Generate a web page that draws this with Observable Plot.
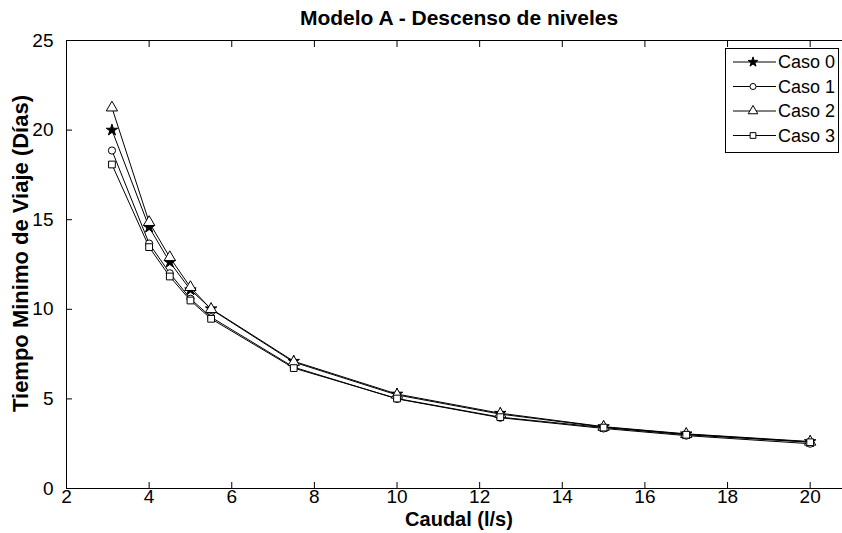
<!DOCTYPE html>
<html>
<head>
<meta charset="utf-8">
<script src="https://cdn.jsdelivr.net/npm/d3@7"></script>
<script src="https://cdn.jsdelivr.net/npm/@observablehq/plot@0.6"></script>
<style>
  html, body { margin: 0; padding: 0; background: #fff; overflow: hidden; }
  #wrap { position: relative; width: 842px; height: 533px; }
  #legend { position: absolute; left: 725px; top: 48px; width: 114px; height: 105px; border: 1px solid #000; background: #fff; box-sizing: border-box; }
</style>
</head>
<body>
<div id="wrap"><div id="chart"></div><div id="legend"></div></div>
<script>
const caudal = [3.1, 4, 4.5, 5, 5.5, 7.5, 10, 12.5, 15, 17, 20];
const caso0 = [20.0, 14.58, 12.63, 11.09, 10.03, 7.1, 5.27, 4.2, 3.45, 3.05, 2.62];
const caso1 = [18.86, 13.67, 12.01, 10.59, 9.56, 6.77, 5.0, 3.95, 3.35, 2.95, 2.5];
const caso2 = [21.25, 14.86, 12.9, 11.23, 10.0, 7.05, 5.22, 4.15, 3.43, 3.03, 2.6];
const caso3 = [18.08, 13.47, 11.83, 10.49, 9.47, 6.72, 5.02, 3.98, 3.4, 3.0, 2.58];
const casos = ["Caso 0", "Caso 1", "Caso 2", "Caso 3"];
const symbols = ["star", "circle", "triangle", "square"];
const fills = ["black", "white", "white", "white"];
const radii = [3.6, 3.6, 4.2, 3.8];
const xTicks = [2, 4, 6, 8, 10, 12, 14, 16, 18, 20];
const yTicks = [0, 5, 10, 15, 20, 25];
const title = "Modelo A - Descenso de niveles";
const xLabel = "Caudal (l/s)";
const yLabel = "Tiempo Minimo de Viaje (Días)";

const series = [caso0, caso1, caso2, caso3];
const data = [];
series.forEach((vals, i) => vals.forEach((v, j) => data.push({caso: casos[i], x: caudal[j], y: v, i})));

const font = "'Liberation Sans', Arial, sans-serif";

const dotMarks = casos.map((c, i) => Plot.dot(data.filter(d => d.caso === c), {
  x: "x", y: "y", symbol: () => symbols[i], r: radii[i],
  fill: fills[i], stroke: "black", strokeWidth: 1
}));

const blank = () => "";
const chart = Plot.plot({
  width: 842, height: 533,
  marginLeft: 66, marginRight: -9, marginTop: 40, marginBottom: 45,
  style: {fontFamily: font, fontSize: "19px", color: "black", background: "white"},
  x: {domain: [2, 21], ticks: xTicks},
  y: {domain: [0, 25], ticks: yTicks},
  symbol: {type: "identity"},
  marks: [
    Plot.frame({stroke: "black"}),
    // labels
    Plot.axisX({ticks: xTicks, tickSize: 0, tickPadding: 1, label: null, fontSize: 19}),
    Plot.axisY({ticks: yTicks, tickSize: 0, tickPadding: 13, label: null, fontSize: 19}),
    // inward tick marks
    Plot.axisX({ticks: xTicks, tickSize: 6, dy: -6, tickFormat: blank, label: null, strokeOpacity: 1}),
    Plot.axisX({anchor: "top", ticks: xTicks, tickSize: 6, dy: 6, tickFormat: blank, label: null, strokeOpacity: 1}),
    Plot.axisY({ticks: yTicks, tickSize: 6, dx: 6, tickFormat: blank, label: null, strokeOpacity: 1}),
    Plot.line(data, {x: "x", y: "y", z: "caso", stroke: "black", strokeWidth: 1}),
    ...dotMarks,
    Plot.text([title], {frameAnchor: "top", dy: -30, fontWeight: "bold", fontSize: 21}),
    Plot.text([xLabel], {frameAnchor: "bottom", dy: 37, fontWeight: "bold", fontSize: 20}),
    Plot.text([yLabel], {frameAnchor: "left", textAnchor: "middle", dx: -46, dy: -11, rotate: -90, fontWeight: "bold", fontSize: 22})
  ]
});
document.getElementById("chart").appendChild(chart);

// Legend
const lg = d3.select("#legend").append("svg").attr("width", 112).attr("height", 103)
  .style("font-family", font).style("font-size", "18px");
const symGen = {star: d3.symbolStar, circle: d3.symbolCircle, triangle: d3.symbolTriangle, square: d3.symbolSquare};
casos.forEach((c, i) => {
  const cy = 13 + i * 24.5;
  const g = lg.append("g");
  g.append("line").attr("x1", 7).attr("x2", 50).attr("y1", cy).attr("y2", cy).attr("stroke", "black");
  const r = radii[i] * 0.85;
  g.append("path").attr("transform", `translate(27,${cy})`)
    .attr("d", d3.symbol(symGen[symbols[i]], Math.PI * r * r)())
    .attr("fill", fills[i]).attr("stroke", "black");
  g.append("text").attr("x", 52).attr("y", cy).attr("dy", "0.35em").text(c);
});
</script>
</body>
</html>
